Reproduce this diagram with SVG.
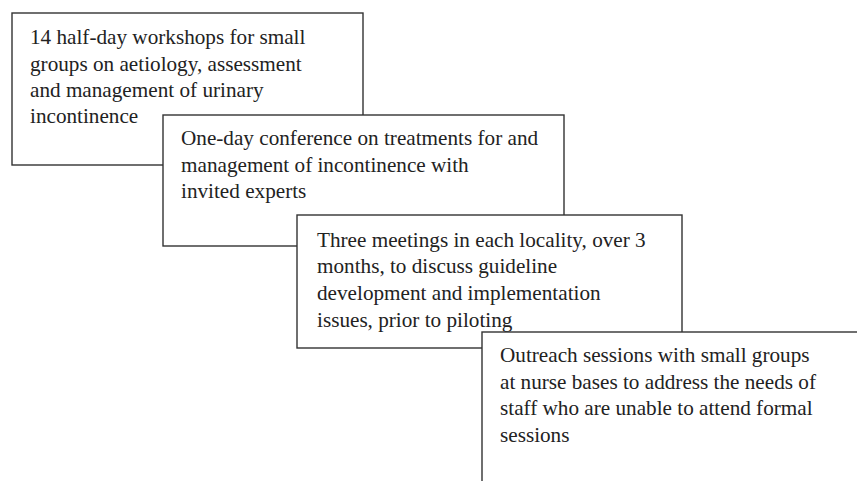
<svg xmlns="http://www.w3.org/2000/svg" width="857" height="481" viewBox="0 0 857 481">
  <style>
    .box { fill: #ffffff; stroke: #333333; stroke-width: 1.4; }
    .label { font-family: "Liberation Serif", "Times New Roman", serif; font-size: 21.2px; fill: #222222; }
  </style>
  <rect width="857" height="481" fill="#ffffff"/>
  <g id="connectors"></g>
  <g id="node-workshops">
    <rect class="box" x="12" y="13" width="351" height="152"/>
    <text class="label">
      <tspan x="30" y="44">14 half-day workshops for small</tspan>
      <tspan x="30" y="70.5">groups on aetiology, assessment</tspan>
      <tspan x="30" y="97">and management of urinary</tspan>
      <tspan x="30" y="123">incontinence</tspan>
    </text>
  </g>
  <g id="node-conference">
    <rect class="box" x="163" y="115" width="401" height="131"/>
    <text class="label">
      <tspan x="181" y="145">One-day conference on treatments for and</tspan>
      <tspan x="181" y="172">management of incontinence with</tspan>
      <tspan x="181" y="198">invited experts</tspan>
    </text>
  </g>
  <g id="node-meetings">
    <rect class="box" x="297" y="215" width="385" height="133"/>
    <text class="label">
      <tspan x="317" y="247">Three meetings in each locality, over 3</tspan>
      <tspan x="317" y="273">months, to discuss guideline</tspan>
      <tspan x="317" y="300">development and implementation</tspan>
      <tspan x="317" y="327">issues, prior to piloting</tspan>
    </text>
  </g>
  <g id="node-outreach">
    <rect class="box" x="482" y="332" width="420" height="200"/>
    <text class="label">
      <tspan x="500" y="362">Outreach sessions with small groups</tspan>
      <tspan x="500" y="389">at nurse bases to address the needs of</tspan>
      <tspan x="500" y="415">staff who are unable to attend formal</tspan>
      <tspan x="500" y="442">sessions</tspan>
    </text>
  </g>
</svg>
